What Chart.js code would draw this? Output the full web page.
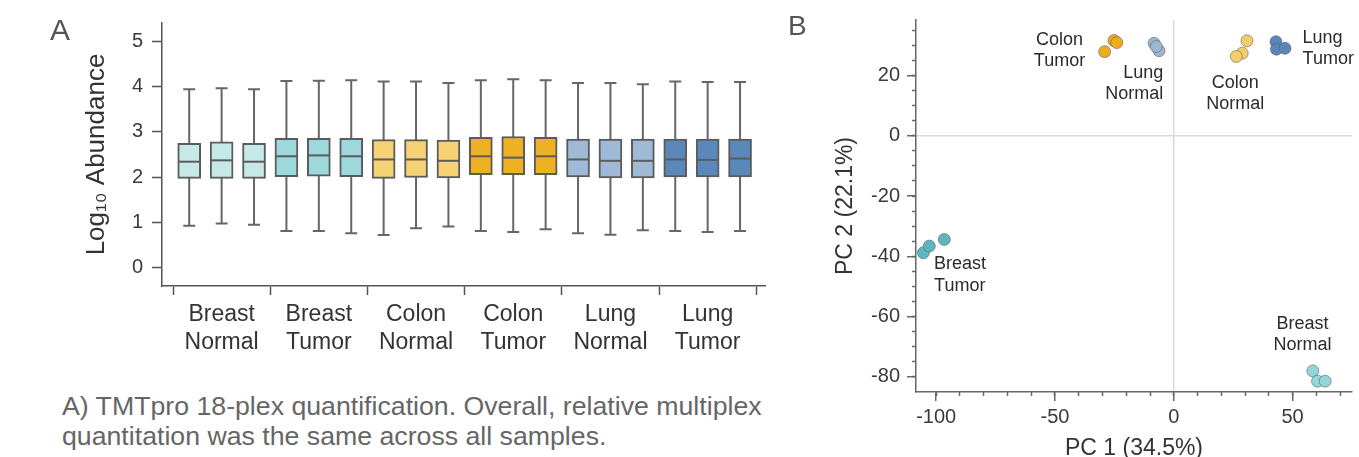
<!DOCTYPE html>
<html lang="en">
  <head>
    <meta charset="UTF-8" />
    <title>TMTpro 18-plex quantification and PCA</title>
    <script src="https://cdn.jsdelivr.net/npm/chart.js"></script>
    <style>
      body {
        margin: 0;
        width: 1359px;
        height: 457px;
        overflow: hidden;
        position: relative;
        background: #fff;
        font-family: 'Liberation Sans', Arial, sans-serif;
      }
      #boxChart { position: absolute; left: 0; top: 0; }
      #pcaChart { position: absolute; left: 780px; top: 0; }
      .panel { position: absolute; color: #555; line-height: 1; }
      #caption {
        position: absolute;
        left: 62px;
        top: 391px;
        font-size: 26.7px;
        line-height: 30px;
        color: #666;
        white-space: nowrap;
      }
    </style>
  </head>
  <body>
    <canvas id="boxChart" width="780" height="370"></canvas>
    <canvas id="pcaChart" width="579" height="470"></canvas>
    <div class="panel" style="left: 50px; top: 15px; font-size: 30px">A</div>
    <div class="panel" style="left: 788px; top: 12px; font-size: 28px">B</div>
    <div id="caption">
      A) TMTpro 18-plex quantification. Overall, relative multiplex<br />quantitation was the same across all samples.
    </div>

    <script>
      // ---- panel A: box plots, 3 replicates per group ----
      const groups = [
        ['Breast', 'Normal'],
        ['Breast', 'Tumor'],
        ['Colon', 'Normal'],
        ['Colon', 'Tumor'],
        ['Lung', 'Normal'],
        ['Lung', 'Tumor'],
      ];
      const boxColors = ['#c5e9e9', '#9dd8dc', '#f6d275', '#eeb124', '#9fbad6', '#5b88bb'];

      const whiskerLow = [0.92, 0.97, 0.94, 0.8, 0.8, 0.75, 0.71, 0.86, 0.9, 0.8, 0.78, 0.84, 0.75, 0.72, 0.82, 0.8, 0.78, 0.8];
      const q1 = [1.97, 1.97, 1.97, 2.01, 2.02, 2.01, 1.97, 1.99, 1.98, 2.05, 2.05, 2.05, 2.0, 1.98, 1.98, 2.0, 2.0, 2.0];
      const median = [2.34, 2.37, 2.34, 2.46, 2.48, 2.46, 2.39, 2.39, 2.36, 2.46, 2.43, 2.46, 2.39, 2.36, 2.36, 2.39, 2.38, 2.41];
      const q3 = [2.75, 2.78, 2.75, 2.86, 2.86, 2.86, 2.83, 2.83, 2.82, 2.88, 2.9, 2.88, 2.84, 2.84, 2.84, 2.84, 2.84, 2.84];
      const whiskerHigh = [3.95, 3.97, 3.95, 4.13, 4.14, 4.15, 4.12, 4.12, 4.09, 4.15, 4.17, 4.15, 4.09, 4.09, 4.06, 4.12, 4.11, 4.11];

      const yTicksA = [0, 1, 2, 3, 4, 5];

      // ---- panel B: PCA scores ----
      const pcaGroups = ['Breast Normal', 'Breast Tumor', 'Colon Normal', 'Colon Tumor', 'Lung Normal', 'Lung Tumor'];
      const pointColors = ['#93d5d9', '#5cb6c0', '#f4cd6a', '#eeac1c', '#9cb6d4', '#5985bb'];
      const pc1 = [
        [58.5, 60.5, 63.7],
        [-105.4, -102.9, -96.6],
        [30.8, 28.8, 26.3],
        [-29.1, -25.2, -24.0],
        [-8.3, -6.2, -7.4],
        [43.0, 43.2, 46.8],
      ];
      const pc2 = [
        [-78.0, -81.4, -81.4],
        [-38.8, -36.6, -34.4],
        [31.5, 27.4, 26.3],
        [27.9, 31.6, 30.9],
        [30.7, 28.2, 29.6],
        [31.2, 28.7, 29.0],
      ];

      const xTicksB = [-100, -50, 0, 50];
      const xMinorB = [-100, -90, -80, -70, -60, -50, -40, -30, -20, -10, 0, 10, 20, 30, 40, 50, 60, 70];
      const yTicksB = [-80, -60, -40, -20, 0, 20];
      const yMinorB = [-80, -75, -70, -65, -60, -55, -50, -45, -40, -35, -30, -25, -20, -15, -10, -5, 0, 5, 10, 15, 20, 25, 30, 35];

      // group label anchors in PC units: [pc1, pc2, align]
      const labelAnchors = [
        [54.2, -62.3, 'center'],
        [-100.9, -42.7, 'left'],
        [25.9, 17.5, 'center'],
        [-48.1, 31.8, 'center'],
        [-4.4, 20.9, 'right'],
        [54.2, 32.5, 'left'],
      ];

      const FONT = "'Liberation Sans', Arial, sans-serif";

      // whiskers under the boxes, medians on top
      const boxWhiskers = {
        id: 'boxWhiskers',
        beforeDatasetsDraw(chart) {
          const { ctx, scales } = chart;
          ctx.save();
          ctx.strokeStyle = '#666';
          ctx.lineWidth = 2;
          whiskerLow.forEach((lo, i) => {
            const px = scales.x.getPixelForValue(i + 0.5);
            const yl = scales.y.getPixelForValue(lo);
            const yh = scales.y.getPixelForValue(whiskerHigh[i]);
            ctx.beginPath();
            ctx.moveTo(px, yl);
            ctx.lineTo(px, yh);
            ctx.moveTo(px - 6, yl);
            ctx.lineTo(px + 6, yl);
            ctx.moveTo(px - 6, yh);
            ctx.lineTo(px + 6, yh);
            ctx.stroke();
          });
          ctx.restore();
        },
        afterDatasetsDraw(chart) {
          const { ctx, scales } = chart;
          ctx.save();
          ctx.strokeStyle = '#5b5b5b';
          ctx.lineWidth = 2;
          median.forEach((m, i) => {
            const px = scales.x.getPixelForValue(i + 0.5);
            const py = scales.y.getPixelForValue(m);
            ctx.beginPath();
            ctx.moveTo(px - 11, py);
            ctx.lineTo(px + 11, py);
            ctx.stroke();
          });
          ctx.restore();
        },
      };

      const boxData = q1.map((lo, i) => ({ x: i + 0.5, y: [lo, q3[i]] }));

      new Chart(document.getElementById('boxChart'), {
        type: 'bar',
        data: {
          datasets: [
            {
              data: boxData,
              backgroundColor: boxData.map((d, i) => boxColors[Math.floor(i / 3)]),
              borderColor: '#5b5b5b',
              borderWidth: 2,
              borderSkipped: false,
              barThickness: 23,
            },
          ],
        },
        options: {
          responsive: false,
          animation: false,
          events: [],
          layout: { padding: { top: 23, right: 15, left: 0, bottom: 0 } },
          plugins: { legend: { display: false }, tooltip: { enabled: false } },
          scales: {
            x: {
              type: 'linear',
              offset: false,
              min: -0.34,
              max: 18.27,
              afterBuildTicks(scale) {
                const t = [];
                for (let g = 0; g <= groups.length; g++) {
                  t.push({ value: g * 3 });
                  if (g < groups.length) t.push({ value: g * 3 + 1.5 });
                }
                scale.ticks = t;
              },
              afterFit(scale) {
                scale.height = 84;
              },
              ticks: {
                autoSkip: false,
                maxRotation: 0,
                padding: 6,
                color: '#333',
                font: { family: FONT, size: 23, lineHeight: 1.22 },
                callback(v) {
                  return v % 3 === 0 ? '' : groups[Math.floor(v / 3)];
                },
              },
              grid: {
                offset: false,
                drawOnChartArea: false,
                tickLength: 9,
                tickWidth: 1.5,
                tickColor: (c) => (c.tick && c.tick.value % 3 === 0 ? '#555' : 'rgba(0,0,0,0)'),
              },
              border: { color: '#555', width: 1.5 },
            },
            y: {
              min: -0.42,
              max: 5.42,
              afterBuildTicks(scale) {
                scale.ticks = yTicksA.map((v) => ({ value: v }));
              },
              afterFit(scale) {
                scale.width = 162;
              },
              ticks: { padding: 9, color: '#3a3a3a', font: { family: FONT, size: 20 } },
              grid: { drawOnChartArea: false, tickLength: 10, tickWidth: 1.5, tickColor: '#555' },
              border: { color: '#555', width: 1.5 },
              title: {
                display: true,
                text: 'Log₁₀ Abundance',
                color: '#333',
                font: { family: FONT, size: 26 },
                padding: { top: 81, bottom: 0 },
              },
            },
          },
        },
        plugins: [boxWhiskers],
      });

      // group names beside the PCA clusters
      const pcaLabels = {
        id: 'pcaLabels',
        afterDatasetsDraw(chart) {
          const { ctx, scales } = chart;
          ctx.save();
          ctx.font = '18px ' + FONT;
          ctx.fillStyle = '#2b2b2b';
          ctx.textBaseline = 'middle';
          labelAnchors.forEach(([ax, ay, align], i) => {
            const px = scales.x.getPixelForValue(ax);
            const py = scales.y.getPixelForValue(ay);
            ctx.textAlign = align;
            pcaGroups[i].split(' ').forEach((word, k) => ctx.fillText(word, px, py + k * 21.5));
          });
          ctx.restore();
        },
      };

      const zeroLine = (c) => (c.tick && c.tick.value === 0 ? '#d9d9d9' : 'rgba(0,0,0,0)');

      new Chart(document.getElementById('pcaChart'), {
        type: 'scatter',
        data: {
          datasets: pcaGroups.map((name, g) => ({
            label: name,
            data: pc1[g].map((v, k) => ({ x: v, y: pc2[g][k] })),
            backgroundColor: pointColors[g],
            borderColor: 'rgba(90,90,90,0.55)',
            borderWidth: 1,
            pointRadius: 6,
          })),
        },
        options: {
          responsive: false,
          animation: false,
          events: [],
          layout: { padding: { top: 20, right: 2, left: 0, bottom: 0 } },
          plugins: { legend: { display: false }, tooltip: { enabled: false } },
          scales: {
            x: {
              type: 'linear',
              position: 'bottom',
              weight: 1,
              min: -108.5,
              max: 75,
              afterBuildTicks(scale) {
                scale.ticks = xTicksB.map((v) => ({ value: v }));
              },
              afterFit(scale) {
                scale.height = 78;
              },
              ticks: { padding: 4, color: '#3a3a3a', font: { family: FONT, size: 20 } },
              grid: { color: zeroLine, lineWidth: 1.5, tickLength: 9, tickWidth: 1.5, tickColor: '#666' },
              border: { color: '#666', width: 1.5 },
              title: {
                display: true,
                text: 'PC 1 (34.5%)',
                color: '#333',
                font: { family: FONT, size: 23 },
                padding: { top: 0, bottom: 8 },
              },
            },
            xMinor: {
              type: 'linear',
              position: 'bottom',
              weight: 0,
              min: -108.5,
              max: 75,
              afterBuildTicks(scale) {
                scale.ticks = xMinorB.map((v) => ({ value: v }));
              },
              afterFit(scale) {
                scale.height = 0;
              },
              ticks: { display: false },
              grid: { drawOnChartArea: false, tickLength: 4, tickWidth: 1.5, tickColor: '#666' },
              border: { display: false },
            },
            y: {
              position: 'left',
              weight: 1,
              min: -85,
              max: 38.4,
              afterBuildTicks(scale) {
                scale.ticks = yTicksB.map((v) => ({ value: v }));
              },
              afterFit(scale) {
                scale.width = 136;
              },
              ticks: {
                padding: 7,
                color: '#3a3a3a',
                font: { family: FONT, size: 20 },
                callback: (v) => String(v),
              },
              grid: { color: zeroLine, lineWidth: 1.5, tickLength: 9, tickWidth: 1.5, tickColor: '#666' },
              border: { color: '#666', width: 1.5 },
              title: {
                display: true,
                text: 'PC 2 (22.1%)',
                color: '#333',
                font: { family: FONT, size: 23 },
                padding: { top: 52, bottom: 0 },
              },
            },
            yMinor: {
              position: 'left',
              weight: 0,
              min: -85,
              max: 38.4,
              afterBuildTicks(scale) {
                scale.ticks = yMinorB.map((v) => ({ value: v }));
              },
              afterFit(scale) {
                scale.width = 0;
              },
              ticks: { display: false },
              grid: { drawOnChartArea: false, tickLength: 4, tickWidth: 1.5, tickColor: '#666' },
              border: { display: false },
            },
          },
        },
        plugins: [pcaLabels],
      });
    </script>
  </body>
</html>
